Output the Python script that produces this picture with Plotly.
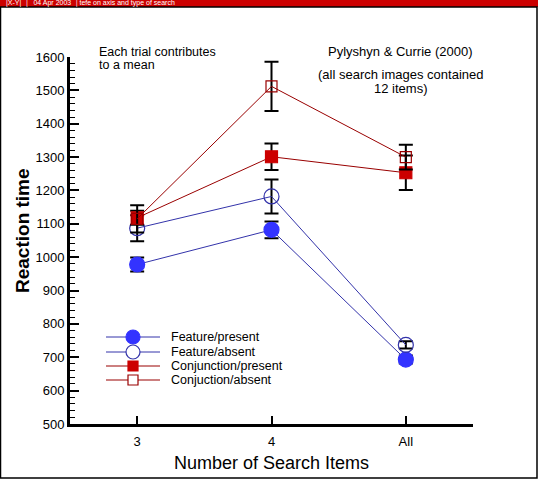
import plotly.graph_objects as go

# categories on the x axis
items = ["3", "4", "All"]
xpos = [0, 1, 2]

# mean reaction times (ms) per condition
feat_present = [978, 1082, 693]
feat_absent = [1087, 1182, 737]
conj_present = [1118, 1301, 1253]
conj_absent = [1115, 1512, 1300]

# error bar half-lengths
feat_present_err = [21, 25, 12]
feat_absent_err = [39, 51, 11]
conj_present_err = [21, 40, 52]
conj_absent_err = [41, 74, 37]

blue = "#3333ff"
blue_line = "#3333aa"
red = "#cc0000"
red_line = "#990000"

series = [
    ("Feature/present", feat_present, feat_present_err, "circle", 15, blue, blue_line),
    ("Feature/absent", feat_absent, feat_absent_err, "circle-open", 15, blue_line, blue_line),
    ("Conjunction/present", conj_present, conj_present_err, "square", 12, red, red_line),
    ("Conjuction/absent", conj_absent, conj_absent_err, "square-open", 11, red_line, red_line),
]

fig = go.Figure()
for name, vals, errs, sym, size, mcol, lcol in series:
    fig.add_trace(go.Scatter(
        x=xpos, y=vals, name=name, mode="lines+markers",
        line=dict(color=lcol, width=1),
        marker=dict(symbol=sym, size=size, color=mcol, line=dict(color=mcol, width=1.2)),
        error_y=dict(type="data", array=errs, color="black", thickness=2, width=7),
        showlegend=False,
    ))

font = "Liberation Sans, Arial, sans-serif"

# the page ends up 8px short in the viewer, so ask for 487 and pad the bottom
fig.update_layout(
    width=538, height=487, autosize=False,
    margin=dict(l=70, r=65, t=57, b=63),
    paper_bgcolor="white", plot_bgcolor="white",
    font=dict(family=font, color="black", size=13),
    xaxis=dict(
        range=[-0.5, 2.5], tickvals=xpos, ticktext=items,
        showline=True, linecolor="black", linewidth=3,
        ticks="inside", ticklen=8, tickwidth=2, tickcolor="black",
        ticklabelstandoff=3,
        showgrid=False, zeroline=False, mirror=False,
        title=dict(text="Number of Search Items", font=dict(size=18), standoff=9),
    ),
    yaxis=dict(
        range=[500, 1600], dtick=100, tick0=500,
        showline=True, linecolor="black", linewidth=3,
        ticks="inside", ticklen=9, tickwidth=2, tickcolor="black",
        minor=dict(dtick=20, ticks="inside", ticklen=5, tickwidth=1, tickcolor="black"),
        showgrid=False, zeroline=False,
    ),
)

# paper coords: plot spans 70..473 px across and 57..424 px down
pw, ph = 403.0, 367.0
def px(xp):
    return (xp - 70) / pw
def py(yp):
    return (424 - yp) / ph

def note(text, x, y, size=12, anchor="left", **kw):
    fig.add_annotation(text=text, xref="paper", yref="paper", x=px(x), y=py(y),
                       xanchor=anchor, yanchor="middle", showarrow=False,
                       font=dict(size=size), **kw)

note("<b>Reaction time</b>", 22, 231, size=19, anchor="center", textangle=-90)
note("Each trial contributes", 97, 52, size=12.5)
note("to a mean", 97, 65, size=12.5)
note("Pylyshyn & Currie (2000)", 400, 52, size=13, anchor="center")
note("(all search images contained", 400, 75, size=13, anchor="center")
note("12 items)", 400, 88, size=13, anchor="center")

# hand-drawn legend, tighter than plotly's own
row_y = [337, 352, 366, 380]
for (name, vals, errs, sym, size, mcol, lcol), ry in zip(series, row_y):
    fig.add_shape(type="line", xref="paper", yref="paper",
                  x0=px(106), x1=px(160), y0=py(ry), y1=py(ry),
                  line=dict(color=lcol, width=1))
    r = 7 if "circle" in sym else 5
    shape = "circle" if "circle" in sym else "rect"
    fill = mcol if "open" not in sym else "white"
    fig.add_shape(type=shape, xref="paper", yref="paper",
                  x0=px(133 - r), x1=px(133 + r), y0=py(ry + r), y1=py(ry - r),
                  fillcolor=fill, line=dict(color=mcol, width=1.2))
    note(name, 169, ry, size=12.5)

# page frame and red header strip
fig.add_shape(type="rect", xref="paper", yref="paper",
              x0=px(0), x1=px(538), y0=py(7), y1=py(0),
              fillcolor="#cc0000", line=dict(width=0), layer="below")
fig.add_shape(type="rect", xref="paper", yref="paper",
              x0=px(0.5), x1=px(537), y0=py(478), y1=py(7),
              fillcolor="rgba(0,0,0,0)", line=dict(color="black", width=1.5))
fig.add_annotation(text="|X-Y|  │  04 Apr 2003  │tefe on axis and type of search",
                   xref="paper", yref="paper", x=px(4), y=py(3.5),
                   xanchor="left", yanchor="middle", showarrow=False,
                   font=dict(size=7, color="white"))

# drop the default page margin so the figure sits at the window origin
fix_page = (
    "document.documentElement.style.margin='0';"
    "document.documentElement.style.overflow='hidden';"
    "document.body.style.margin='0';"
    "document.body.style.overflow='hidden';"
)

fig.write_html("out.html", post_script=fix_page,
               config={"displayModeBar": False, "responsive": False})
